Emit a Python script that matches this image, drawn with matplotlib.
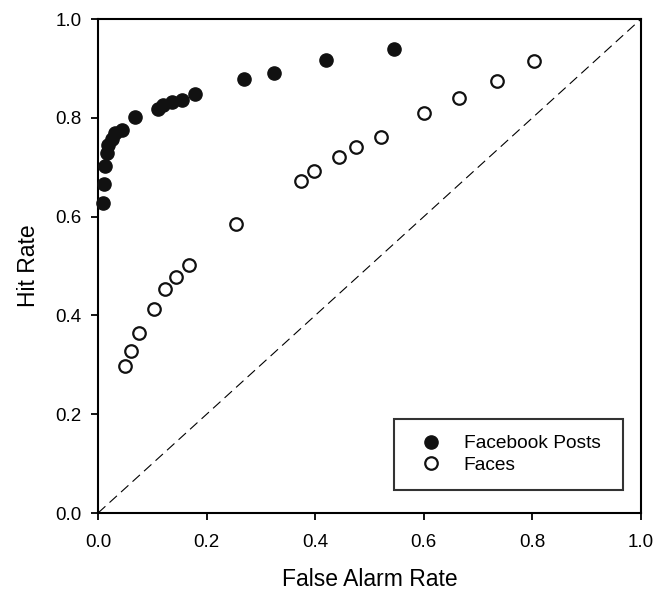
import matplotlib
matplotlib.use("Agg")
import matplotlib.pyplot as plt

plt.rcParams['font.family'] = ['Liberation Sans', 'DejaVu Sans']

# Facebook Posts (filled)
fb_far = [0.010, 0.011, 0.013, 0.016, 0.019, 0.025, 0.031, 0.044, 0.068,
          0.111, 0.120, 0.136, 0.154, 0.179, 0.268, 0.325, 0.419, 0.546]
fb_hit = [0.628, 0.666, 0.702, 0.728, 0.745, 0.758, 0.769, 0.775, 0.801,
          0.817, 0.826, 0.833, 0.837, 0.848, 0.878, 0.890, 0.917, 0.939]

# Faces (open)
face_far = [0.050, 0.060, 0.075, 0.103, 0.124, 0.143, 0.168, 0.254, 0.374,
            0.397, 0.443, 0.476, 0.522, 0.601, 0.665, 0.734, 0.802]
face_hit = [0.298, 0.327, 0.365, 0.414, 0.453, 0.478, 0.503, 0.586, 0.673,
            0.692, 0.720, 0.741, 0.762, 0.809, 0.841, 0.875, 0.914]

ticks = [0.0, 0.2, 0.4, 0.6, 0.8, 1.0]

fig = plt.figure(figsize=(6.64, 5.92), dpi=100)
ax = fig.add_axes([0.1476, 0.1334, 0.8178, 0.8345])

ax.plot([0, 1], [0, 1], color='black', lw=0.8, dashes=(9, 5))
ax.plot(fb_far, fb_hit, 'o', color='#111111', ms=9.5, mec='#111111',
        label='Facebook Posts', clip_on=False, zorder=3)
ax.plot(face_far, face_hit, 'o', mfc='white', mec='#111111', mew=1.6, ms=9,
        label='Faces', clip_on=False, zorder=3)

ax.set_xlim(0, 1)
ax.set_ylim(0, 1)
ax.set_xticks(ticks)
ax.set_yticks(ticks)
ax.set_xticklabels(['%.1f' % t for t in ticks])
ax.set_yticklabels(['%.1f' % t for t in ticks])
ax.tick_params(direction='out', length=5, width=1.3, labelsize=13.5)
ax.tick_params(axis='x', pad=10)
ax.tick_params(axis='y', pad=7)
for s in ax.spines.values():
    s.set_linewidth(1.5)

ax.set_xlabel('False Alarm Rate', fontsize=16.5, labelpad=12)
ax.set_ylabel('Hit Rate', fontsize=16.5, labelpad=11)

leg = ax.legend(loc='lower left', bbox_to_anchor=(0.545, 0.0466, 0.421, 0.15),
                mode='expand', fontsize=13.8, fancybox=False, frameon=True,
                borderpad=0.85, labelspacing=0.2, handletextpad=0.67,
                handlelength=2.12, borderaxespad=0)
leg.get_frame().set_edgecolor('black')
leg.get_frame().set_linewidth(1.5)

fig.savefig('out.png', dpi=100)
